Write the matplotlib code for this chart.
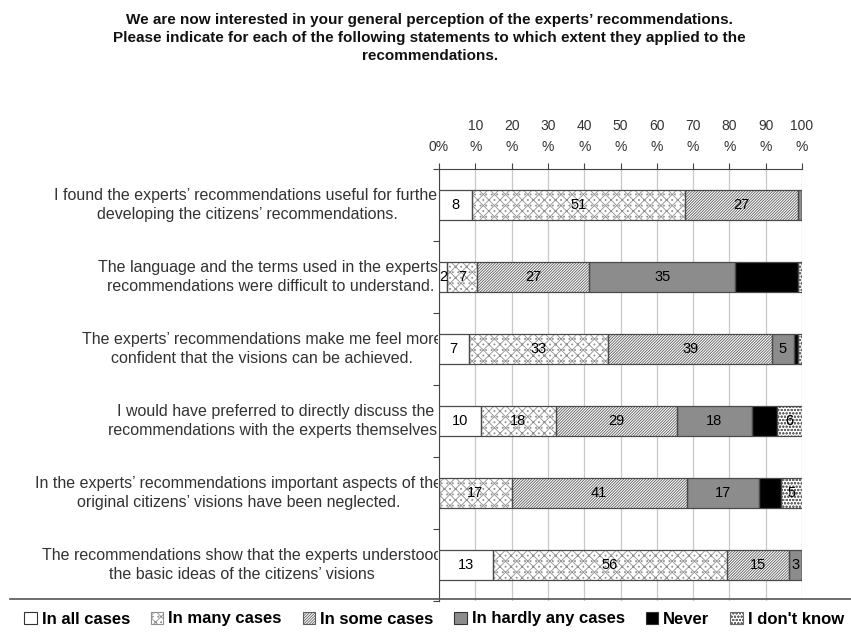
import numpy as np
import matplotlib
matplotlib.use("Agg")
from matplotlib import pyplot as plt
from matplotlib.lines import Line2D
from matplotlib.transforms import Bbox, TransformedBbox, IdentityTransform
import matplotlib.patches as mpatches

plt.rcParams['font.family'] = ['Liberation Sans', 'DejaVu Sans']
plt.rcParams['hatch.linewidth'] = 0.6

title = ("We are now interested in your general perception of the experts\u2019 recommendations.\n"
         "Please indicate for each of the following statements to which extent they applied to the\n"
         "recommendations.")

statements = [
    "I found the experts\u2019 recommendations useful for further\ndeveloping the citizens\u2019 recommendations.",
    "The language and the terms used in the experts\u2019\nrecommendations were difficult to understand.",
    "The experts\u2019 recommendations make me feel more\nconfident that the visions can be achieved.",
    "I would have preferred to directly discuss the\nrecommendations with the experts themselves.",
    "In the experts\u2019 recommendations important aspects of the\noriginal citizens\u2019 visions have been neglected.",
    "The recommendations show that the experts understood\nthe basic ideas of the citizens\u2019 visions",
]

answers = ["In all cases", "In many cases", "In some cases",
           "In hardly any cases", "Never", "I don't know"]

# answer counts per statement (bars are shown as share of the row total)
all_cases = [8, 2, 7, 10, 0, 13]
many_cases = [51, 7, 33, 18, 17, 56]
some_cases = [27, 27, 39, 29, 41, 15]
hardly_any = [1, 35, 5, 18, 17, 3]
never = [0, 15, 1, 6, 5, 0]
dont_know = [0, 1, 1, 6, 5, 0]

tick_values = [0, 10, 20, 30, 40, 50, 60, 70, 80, 90, 100]
tick_labels = ["0%"] + ["%d\n%%" % v for v in tick_values[1:]]

faces = ["white", "white", "white", "#8c8c8c", "black", "white"]
hatches = [None, "xxx...", "////////////", None, None, "ooooo"]
hatch_cols = ["none", "#909090", "#5c5c5c", "none", "none", "#6a6a6a"]

counts = np.array([all_cases, many_cases, some_cases, hardly_any, never, dont_know], dtype=float)
shares = counts / counts.sum(axis=0) * 100

W, H = 851, 632
fig = plt.figure(figsize=(W / 100, H / 100), dpi=100)
ax = fig.add_axes([439 / W, 1 - 601 / H, 363 / W, 432 / H])

y = np.arange(len(statements))
left = np.zeros(len(statements))
for k in range(len(answers)):
    ax.barh(y, shares[k], 0.42, left=left, color=faces[k], hatch=hatches[k],
            edgecolor=hatch_cols[k], linewidth=0, zorder=3)
    ax.barh(y, shares[k], 0.42, left=left, fill=False, edgecolor="#4a4a4a", linewidth=0.9, zorder=4)
    for i in range(len(statements)):
        if shares[k][i] >= 2:
            ax.text(left[i] + shares[k][i] / 2, y[i], "%d" % counts[k][i],
                    ha='center', va='center', fontsize=10.5, color="black", zorder=5)
    left = left + shares[k]

ax.set_xlim(0, 100)
ax.set_ylim(len(statements) - 0.5, -0.5)
ax.xaxis.tick_top()
ax.set_xticks(tick_values)
ax.set_xticklabels(tick_labels, fontsize=10, color="#333333", linespacing=1.6)
ax.tick_params(axis='x', length=4, width=0.8, color="#444444", pad=7)
ax.set_yticks(np.arange(len(statements) + 1) - 0.5)
ax.set_yticklabels([])
ax.tick_params(axis='y', length=4, width=0.8, color="#444444")
ax.grid(axis='x', color="#c8c8c8", linewidth=0.9, zorder=0)
for s in ['right', 'bottom']:
    ax.spines[s].set_visible(False)
ax.spines['top'].set_color("#444444")
ax.spines['left'].set_color("#444444")

# statement labels, cut off at the axis like the original
label_clip = TransformedBbox(Bbox.from_extents(0, 0, 438, H), IdentityTransform())
for i, s in enumerate(statements):
    t = ax.text(3 / 363, i, s, transform=ax.get_yaxis_transform(),
                ha='right', va='center', multialignment='center',
                fontsize=11.5, color="#333333", linespacing=1.35)
    t.set_clip_box(label_clip)
    t.set_clip_on(True)

t = fig.text(0.505, 1 - 38 / H, title, ha='center', va='center', fontsize=11,
             fontweight='bold', linespacing=1.33, color="#111111")
t.set_clip_box(TransformedBbox(Bbox.from_extents(0, 0, 745, H), IdentityTransform()))
t.set_clip_on(True)

fig.add_artist(Line2D([10 / W, 1], [1 - 599 / H, 1 - 599 / H], transform=fig.transFigure,
                      color="#555555", linewidth=1.2))

handles = [mpatches.Patch(facecolor=faces[k], hatch=hatches[k],
                          edgecolor="#333333" if hatches[k] is None else hatch_cols[k],
                          linewidth=0.8) for k in range(len(answers))]
fig.legend(handles, answers, loc='center', bbox_to_anchor=(0.51, 1 - 619 / H), ncol=6,
           frameon=False, handlelength=0.75, handleheight=0.75, handletextpad=0.3,
           columnspacing=1.25, prop={'size': 12, 'weight': 'bold'})

fig.savefig("out.png", dpi=100)
